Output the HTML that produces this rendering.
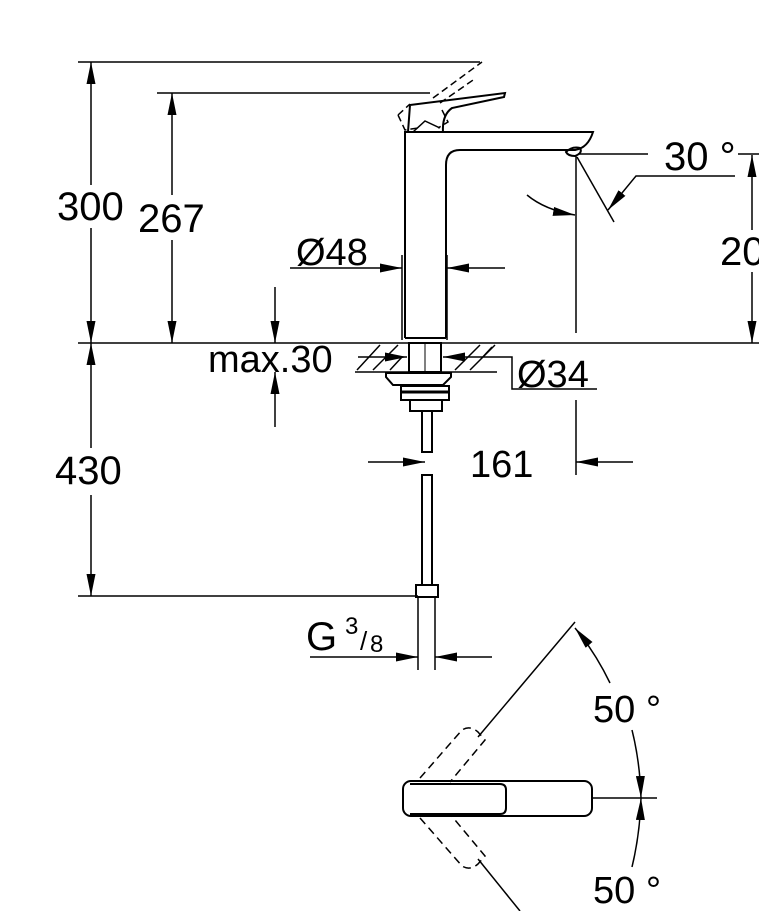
<!DOCTYPE html>
<html><head><meta charset="utf-8"><style>
html,body{margin:0;padding:0;background:#fff;}
svg{display:block;}
text{font-family:"Liberation Sans",sans-serif;fill:#000;}
</style></head><body>
<svg width="759" height="911" viewBox="0 0 759 911" xmlns="http://www.w3.org/2000/svg">
<defs>
<marker id="a" viewBox="0 0 22 9" refX="22" refY="4.5" markerWidth="22" markerHeight="9" markerUnits="userSpaceOnUse" orient="auto"><path d="M0,0 L22,4.5 L0,9 z" fill="#000"/></marker>
</defs>
<g stroke="#000" fill="none" stroke-width="1.5">
<line x1="78" y1="62" x2="480" y2="62"/>
<line x1="157" y1="93" x2="430" y2="93"/>
<line x1="78" y1="343" x2="759" y2="343"/>
<line x1="78" y1="596" x2="418" y2="596"/>
<line x1="91" y1="185" x2="91" y2="62" marker-end="url(#a)"/>
<line x1="91" y1="228" x2="91" y2="343" marker-end="url(#a)"/>
<line x1="172" y1="195" x2="172" y2="93" marker-end="url(#a)"/>
<line x1="172" y1="240" x2="172" y2="343" marker-end="url(#a)"/>
<line x1="91" y1="448" x2="91" y2="343" marker-end="url(#a)"/>
<line x1="91" y1="495" x2="91" y2="596" marker-end="url(#a)"/>
<path d="M405,338 V132 H593 Q588,148 575,150 H460 Q446,150 446,165 V338" stroke-width="2"/>
<line x1="405" y1="338" x2="446" y2="338" stroke-width="2"/>
<path d="M566,152 Q572,146 580,148 Q583,153 575,156 Q568,156 566,152 z" stroke-width="2"/>
<path d="M408,132 L410,105 L505,93 L504,97 L452,108 Q442,115 443,132" stroke-width="2"/>
<path d="M413,132 L425,121 L440,128" stroke-width="1.5"/>
<path d="M398,115 L405,130 L418,128 M398,115 L410,104 M433,98 L482,62 M440,103 L476,78 M442,110 L448,122 L438,128" stroke-dasharray="7,4"/>
<line x1="402" y1="255" x2="402" y2="340"/>
<line x1="447" y1="255" x2="447" y2="340"/>
<line x1="290" y1="268" x2="402" y2="268" marker-end="url(#a)"/>
<line x1="505" y1="268" x2="447" y2="268" marker-end="url(#a)"/>
<line x1="578" y1="154" x2="648" y2="154"/>
<line x1="738" y1="154" x2="759" y2="154"/>
<line x1="576" y1="155" x2="576" y2="333"/>
<line x1="577" y1="157" x2="614" y2="222"/>
<path d="M735,176 H636 L608,210" marker-end="url(#a)"/>
<path d="M527,195 Q545,210 575,215" marker-end="url(#a)"/>
<line x1="752" y1="230" x2="752" y2="155" marker-end="url(#a)"/>
<line x1="752" y1="272" x2="752" y2="343" marker-end="url(#a)"/>
<line x1="355" y1="372" x2="497" y2="372"/>
<path d="M357,370 L380,345 M373,370 L398,345 M390,370 L402,357 M455,370 L480,345 M470,370 L495,345 M480,360 L492,347"/>
<line x1="358" y1="357" x2="407" y2="357" marker-end="url(#a)"/>
<line x1="497" y1="357" x2="443" y2="357" marker-end="url(#a)"/>
<path d="M497,357 H512 V389 H597"/>
<rect x="409" y="343" width="32" height="29" stroke-width="2"/>
<line x1="425" y1="343" x2="425" y2="372" stroke-width="1"/>
<line x1="275" y1="287" x2="275" y2="343" marker-end="url(#a)"/>
<line x1="275" y1="427" x2="275" y2="372" marker-end="url(#a)"/>
<path d="M386,373 H451 V377 L443,385 H393 L386,377 z" stroke-width="2"/>
<rect x="401" y="386" width="48" height="14" stroke-width="2"/>
<rect x="410" y="400" width="32" height="11" stroke-width="2"/>
<line x1="401" y1="392" x2="449" y2="392" stroke-width="3"/>
<rect x="422" y="411" width="10" height="41" stroke-width="2"/>
<rect x="422" y="475" width="10" height="110" stroke-width="2"/>
<rect x="416" y="585" width="22" height="12" stroke-width="2"/>
<line x1="418" y1="597" x2="418" y2="670"/>
<line x1="435" y1="597" x2="435" y2="670"/>
<line x1="368" y1="462" x2="425" y2="462" marker-end="url(#a)"/>
<line x1="576" y1="400" x2="576" y2="475"/>
<line x1="633" y1="462" x2="576" y2="462" marker-end="url(#a)"/>
<line x1="310" y1="657" x2="418" y2="657" marker-end="url(#a)"/>
<line x1="492" y1="657" x2="435" y2="657" marker-end="url(#a)"/>
<rect x="403" y="781" width="189" height="35" rx="8" stroke-width="2"/>
<path d="M410,784 H500 Q506,784 506,790 V808 Q506,814 500,814 H410" stroke-width="2"/>
<line x1="478" y1="737" x2="575" y2="622"/>
<line x1="478" y1="859" x2="520" y2="911"/>
<path d="M420,778 L462,730 Q470,725 478,732 L485,740 L450,782 M420,818 L462,866 Q470,871 478,864 L485,856 L450,814" stroke-dasharray="8,5"/>
<line x1="592" y1="798" x2="657" y2="798"/>
<path d="M610,683 Q595,652 575,628" marker-end="url(#a)"/>
<path d="M632,730 Q640,762 641,798" marker-end="url(#a)"/>
<path d="M632,867 Q640,834 641,798" marker-end="url(#a)"/>
</g>
<text x="57" y="220" font-size="40">300</text>
<text x="138" y="232" font-size="40">267</text>
<text x="55" y="484" font-size="40">430</text>
<text x="296" y="265" font-size="38">Ø48</text>
<text x="664" y="170" font-size="40">30 °</text>
<text x="720" y="265" font-size="40">20</text>
<text x="208" y="372" font-size="38">max.30</text>
<text x="517" y="387" font-size="38">Ø34</text>
<text x="470" y="477" font-size="38">161</text>
<text x="306" y="650" font-size="40">G</text>
<text x="345" y="634" font-size="24">3</text>
<text x="360" y="650" font-size="26">/</text>
<text x="370" y="652" font-size="24">8</text>
<text x="593" y="722" font-size="38">50 °</text>
<text x="593" y="903" font-size="38">50 °</text>
</svg>
</body></html>
